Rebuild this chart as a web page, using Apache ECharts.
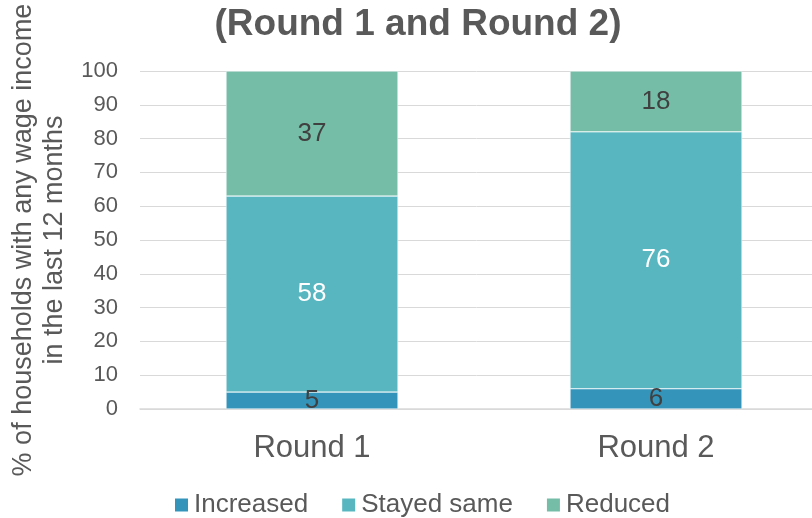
<!DOCTYPE html>
<html><head><meta charset="utf-8">
<script src="https://cdn.jsdelivr.net/npm/echarts@6/dist/echarts.min.js"></script>
<style>html,body{margin:0;padding:0;background:#fff}#c{width:812px;height:518px}</style>
</head><body><div id="c"></div>
<script>
const categories = ['Round 1', 'Round 2'];
const increased = [5, 6];
const stayedSame = [58, 76];
const reduced = [37, 18];
const yTicks = [0, 10, 20, 30, 40, 50, 60, 70, 80, 90, 100];

const chart = echarts.init(document.getElementById('c'));
const font = 'Liberation Sans, Arial, sans-serif';
function mk(name, data, color, labelColor) {
  return {
    name, type: 'bar', stack: 's', data, barWidth: 172,
    itemStyle: { color, borderColor: '#ffffff', borderWidth: 0.5 },
    label: { show: true, position: 'inside', color: labelColor, fontSize: 26, fontFamily: font },
    emphasis: { disabled: true }
  };
}
chart.setOption({
  animation: false,
  title: {
    text: '(Round 1 and Round 2)', left: 413, top: 1, textAlign: 'center',
    textStyle: { fontSize: 37, fontWeight: 'bold', color: '#595959', fontFamily: font }
  },
  grid: { left: 140, width: 688, top: 71, bottom: 109, containLabel: false, outerBoundsMode: 'none' },
  legend: {
    top: 492, left: 175, padding: 0, itemWidth: 13, itemHeight: 13, itemGap: 34, icon: 'rect',
    itemStyle: { borderWidth: 0 },
    textStyle: { fontSize: 26, color: '#595959', fontFamily: font, padding: [0, 0, 0, 1] },
    data: ['Increased', 'Stayed same', 'Reduced']
  },
  xAxis: {
    type: 'category', data: categories,
    axisTick: { show: false },
    axisLine: { lineStyle: { color: '#d9d9d9', width: 1.5 } },
    axisLabel: { fontSize: 31, color: '#595959', fontFamily: font, margin: 24 }
  },
  yAxis: {
    type: 'value', min: 0, max: 100, interval: 10,
    name: '% of households with any wage income\nin the last 12 months',
    nameLocation: 'middle', nameGap: 68, nameRotate: 90,
    nameTextStyle: { fontSize: 27, color: '#595959', fontFamily: font, lineHeight: 31 },
    axisLabel: { fontSize: 22, color: '#595959', fontFamily: font, margin: 22,
      formatter: v => yTicks.includes(v) ? String(v) : '' },
    splitLine: { lineStyle: { color: '#d9d9d9', width: 1 } },
    axisLine: { show: false }, axisTick: { show: false }
  },
  series: [
    mk('Increased', increased, '#3494BA', '#404040'),
    mk('Stayed same', stayedSame, '#58B6C0', '#ffffff'),
    mk('Reduced', reduced, '#75BDA7', '#404040')
  ]
});
</script></body></html>
